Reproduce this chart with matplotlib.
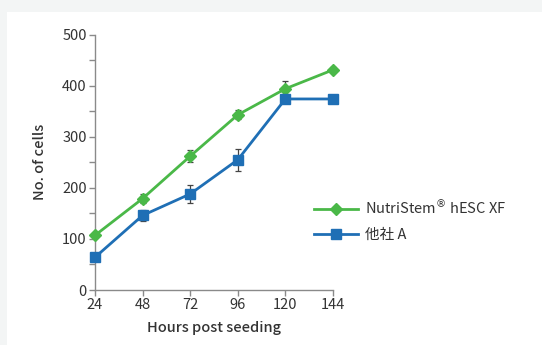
import matplotlib.pyplot as plt
from matplotlib.patches import Rectangle

# data
hours = [24, 48, 72, 96, 120, 144]
nutristem = [107, 179, 262, 343, 394, 431]
nutristem_err = [0, 8, 12, 9, 16, 5]
other = [64, 146, 188, 255, 374, 374]
other_err = [0, 11, 17, 22, 3, 0]
labels = ['NutriStem$^{\\circledR}$ hESC XF', '他社 A']

plt.rcParams['font.family'] = ['Noto Sans CJK JP', 'DejaVu Sans']

fig = plt.figure(figsize=(5.42, 3.45), dpi=100, facecolor='#f3f5f5')

# white card behind the chart
fig.patches.append(Rectangle((7 / 542, 0), 1, 1 - 12 / 345, transform=fig.transFigure,
                             facecolor='white', edgecolor='none', zorder=-5))

ax = fig.add_axes([95 / 542, 55 / 345, 238 / 542, 255.4 / 345])
ax.set_facecolor('none')
ax.set_zorder(2)

green = '#4ab848'
blue = '#1f6fb5'
text_col = '#333333'
axis_col = '#8a8a8a'

g = ax.errorbar(hours, nutristem, yerr=nutristem_err, color=green, lw=2, marker='D', ms=6,
                ecolor='#444444', elinewidth=0.9, capsize=2.5, capthick=0.9,
                clip_on=False, zorder=3)
b = ax.errorbar(hours, other, yerr=other_err, color=blue, lw=2, marker='s', ms=7,
                ecolor='#444444', elinewidth=0.9, capsize=2.5, capthick=0.9,
                clip_on=False, zorder=3)

ax.set_xlim(24, 144)
ax.set_ylim(0, 500)
ax.set_xticks(hours)
ax.set_yticks(range(0, 501, 100))
ax.set_yticks(range(50, 500, 100), minor=True)

for s in ['top', 'right']:
    ax.spines[s].set_visible(False)
for s in ['left', 'bottom']:
    ax.spines[s].set_color(axis_col)
    ax.spines[s].set_linewidth(1)

ax.tick_params(axis='both', which='both', color=axis_col, length=4, width=1,
               labelcolor=text_col, labelsize=10.5, pad=2)

ax.set_xlabel('Hours post seeding', fontsize=10.5, color=text_col, labelpad=6,
              fontweight='medium')
ax.set_ylabel('No. of cells', fontsize=10.5, color=text_col, labelpad=11,
              fontweight='medium')

# legend without the error bar glyphs
leg = ax.legend([g[0], b[0]], labels, loc='center left', bbox_to_anchor=(0.865, 0.275),
                frameon=False, fontsize=10.5, handlelength=3.0, handletextpad=0.5,
                labelspacing=0.8)
for t in leg.get_texts():
    t.set_color(text_col)

fig.savefig('out.png', dpi=100, facecolor=fig.get_facecolor())
